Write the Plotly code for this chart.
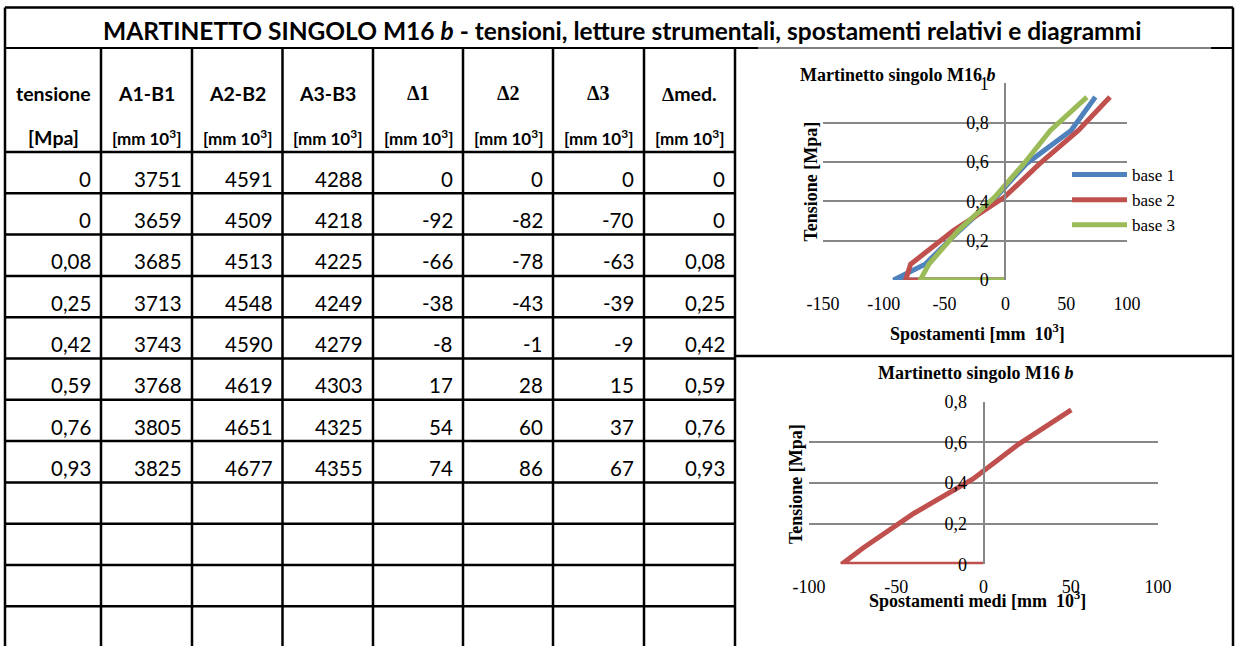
import plotly.graph_objects as go

# ---------------- data ----------------
tensione = [0, 0, 0.08, 0.25, 0.42, 0.59, 0.76, 0.93]
a1_b1 = [3751, 3659, 3685, 3713, 3743, 3768, 3805, 3825]
a2_b2 = [4591, 4509, 4513, 4548, 4590, 4619, 4651, 4677]
a3_b3 = [4288, 4218, 4225, 4249, 4279, 4303, 4325, 4355]
delta1 = [0, -92, -66, -38, -8, 17, 54, 74]
delta2 = [0, -82, -78, -43, -1, 28, 60, 86]
delta3 = [0, -70, -63, -39, -9, 15, 37, 67]
delta_med_col = [0, 0, 0.08, 0.25, 0.42, 0.59, 0.76, 0.93]

# chart 2 (spostamenti medi)
medi_x = [0, -81.3, -69, -40, -6, 20, 50.3]
medi_y = [0, 0, 0.08, 0.25, 0.42, 0.59, 0.76]

header_top = ["tensione", "A1-B1", "A2-B2", "A3-B3", "Δ1", "Δ2", "Δ3", "Δmed."]
header_unit = ["[Mpa]", "[mm 10<sup>3</sup>]", "[mm 10<sup>3</sup>]", "[mm 10<sup>3</sup>]",
               "[mm 10<sup>3</sup>]", "[mm 10<sup>3</sup>]", "[mm 10<sup>3</sup>]", "[mm 10<sup>3</sup>]"]
title_text = "MARTINETTO SINGOLO M16 <i>b</i> - tensioni, letture strumentali, spostamenti relativi e diagrammi"

x1_ticks = [-150, -100, -50, 0, 50, 100]
x1_ticklabels = ["-150", "-100", "-50", "0", "50", "100"]
y1_ticks = [0, 0.2, 0.4, 0.6, 0.8, 1]
y1_ticklabels = ["0", "0,2", "0,4", "0,6", "0,8", "1"]
x2_ticks = [-100, -50, 0, 50, 100]
x2_ticklabels = ["-100", "-50", "0", "50", "100"]
y2_ticks = [0, 0.2, 0.4, 0.6, 0.8]
y2_ticklabels = ["0", "0,2", "0,4", "0,6", "0,8"]

# ---------------- geometry helpers ----------------
W, H = 1236, 646
def fx(px):
    return px / W
def fy(py):
    return 1 - py / H

SERIF = "Liberation Serif, Times New Roman, serif"
SANS = "Lato, Carlito, Calibri, sans-serif"
GRID = "#878787"
BLUE, RED, GREEN = "#4F81BD", "#C0504D", "#9BBB59"

col_edges = [5, 101, 192, 282.5, 373, 463, 553, 644, 735]
LEFT, RIGHT, TOP = 5, 1233, 7.5
TITLE_BOTTOM = 48
HEADER_BOTTOM = 152
ROW_H = 41.3
N_ROWS = 12

def fmt(v):
    s = f"{v:g}"
    return s.replace(".", ",")

fig = go.Figure()

# ---------------- charts ----------------
fig.add_trace(go.Scatter(x=delta1, y=tensione, mode="lines", name="base 1",
                         line=dict(color=BLUE, width=5), xaxis="x", yaxis="y"))
fig.add_trace(go.Scatter(x=delta2, y=tensione, mode="lines", name="base 2",
                         line=dict(color=RED, width=5), xaxis="x", yaxis="y"))
fig.add_trace(go.Scatter(x=delta3, y=tensione, mode="lines", name="base 3",
                         line=dict(color=GREEN, width=5), xaxis="x", yaxis="y"))
fig.add_trace(go.Scatter(x=medi_x, y=medi_y, mode="lines", name="medio",
                         line=dict(color=RED, width=5), xaxis="x2", yaxis="y2",
                         showlegend=False))

tickfont = dict(family=SERIF, size=18, color="black")

# ---------------- table lines ----------------
shapes = []
def hline(y, x0, x1, w=2):
    shapes.append(dict(type="line", xref="paper", yref="paper", x0=fx(x0), x1=fx(x1),
                       y0=fy(y), y1=fy(y), line=dict(color="black", width=w)))
def vline(x, y0, y1, w=2):
    shapes.append(dict(type="line", xref="paper", yref="paper", x0=fx(x), x1=fx(x),
                       y0=fy(y0), y1=fy(y1), line=dict(color="black", width=w)))

hline(TOP, LEFT, RIGHT, 2.5)
vline(LEFT, TOP, H + 5, 2.5)
vline(RIGHT, TOP, H + 5, 2.5)
hline(TITLE_BOTTOM, LEFT, 758, 2)
hline(TITLE_BOTTOM, 758, 1211, 1)
hline(TITLE_BOTTOM, 1211, RIGHT, 2)
hline(HEADER_BOTTOM, LEFT, col_edges[-1], 2.5)
for k in range(1, N_ROWS + 1):
    hline(HEADER_BOTTOM + ROW_H * k, LEFT, col_edges[-1], 2.5)
for x in col_edges[1:]:
    vline(x, TITLE_BOTTOM, H + 5, 2.5)
hline(356, col_edges[-1], RIGHT, 2.5)

# ---------------- table text ----------------
ann = []
ann.append(dict(text="<b>" + title_text + "</b>", x=fx((LEFT + RIGHT) / 2 + 3), y=fy(30.5),
                xref="paper", yref="paper", showarrow=False, xanchor="center", yanchor="middle",
                font=dict(family=SANS, size=24.5, color="black")))

for i, (t, u) in enumerate(zip(header_top, header_unit)):
    cx = (col_edges[i] + col_edges[i + 1]) / 2
    if t.startswith("Δ") and t != "Δmed.":
        txt = "<b>" + t + "</b>"
        fam = SERIF
        size = 20
    elif t == "Δmed.":
        txt = "<b><span style='font-family:" + SERIF + "'>Δ</span>med.</b>"
        fam = SANS
        size = 19.5
    else:
        txt = "<b>" + t + "</b>"
        fam = SANS
        size = 19.5
    ann.append(dict(text=txt, x=fx(cx), y=fy(93), xref="paper", yref="paper", showarrow=False,
                    xanchor="center", yanchor="middle", font=dict(family=fam, size=size, color="black")))
    usize = 19.5 if i == 0 else 17
    ann.append(dict(text="<b>" + u + "</b>", x=fx(cx), y=fy(137), xref="paper", yref="paper",
                    showarrow=False, xanchor="center", yanchor="middle",
                    font=dict(family=SANS, size=usize, color="black")))

columns = [tensione, a1_b1, a2_b2, a3_b3, delta1, delta2, delta3, delta_med_col]
for c, col in enumerate(columns):
    for r, v in enumerate(col):
        ybot = HEADER_BOTTOM + ROW_H * (r + 1)
        ann.append(dict(text=fmt(v), x=fx(col_edges[c + 1] - 8), y=fy(ybot - 14.5),
                        xref="paper", yref="paper", showarrow=False, xanchor="right",
                        yanchor="middle", font=dict(family=SANS, size=20.5, color="black")))

# ---------------- chart titles ----------------
tfont = dict(family=SERIF, size=18, color="black")
ann.append(dict(text="<b>Martinetto singolo M16 <i>b</i></b>", x=fx(798), y=fy(75), xref="paper",
                yref="paper", showarrow=False, xanchor="left", yanchor="middle", font=tfont))
ann.append(dict(text="<b>Tensione [Mpa]</b>", x=fx(810), y=fy(181.5), xref="paper", yref="paper",
                showarrow=False, textangle=-90, xanchor="center", yanchor="middle", font=tfont))
ann.append(dict(text="<b>Spostamenti [mm&nbsp; 10<sup>3</sup>]</b>", x=fx(977), y=fy(332),
                xref="paper", yref="paper", showarrow=False, xanchor="center", yanchor="middle",
                font=tfont))
ann.append(dict(text="<b>Martinetto singolo M16 <i>b</i></b>", x=fx(976), y=fy(373), xref="paper",
                yref="paper", showarrow=False, xanchor="center", yanchor="middle", font=tfont))
ann.append(dict(text="<b>Tensione [Mpa]</b>", x=fx(796), y=fy(484), xref="paper", yref="paper",
                showarrow=False, textangle=-90, xanchor="center", yanchor="middle", font=tfont))
ann.append(dict(text="<b>Spostamenti medi [mm&nbsp; 10<sup>3</sup>]</b>", x=fx(977), y=fy(599),
                xref="paper", yref="paper", showarrow=False, xanchor="center", yanchor="middle",
                font=tfont))

# ---------------- layout ----------------
fig.update_layout(
    template="none",
    width=W, height=H, autosize=False,
    margin=dict(l=0, r=0, t=0, b=0, pad=0, autoexpand=False),
    paper_bgcolor="white", plot_bgcolor="rgba(0,0,0,0)",
    shapes=shapes, annotations=ann,
    showlegend=True,
    legend=dict(x=fx(1067), y=fy(157), xanchor="left", yanchor="top",
                font=dict(family=SERIF, size=17, color="black"),
                bgcolor="rgba(0,0,0,0)", itemwidth=55, tracegroupgap=0),
    xaxis=dict(domain=[fx(823), fx(1127)], range=[-150, 100], anchor="y", automargin=False,
               tickmode="array", tickvals=x1_ticks, ticktext=x1_ticklabels,
               showgrid=False, zeroline=False, showline=False, ticks="",
               ticklabelstandoff=11, tickfont=tickfont, fixedrange=True),
    yaxis=dict(domain=[fy(280), fy(83.3)], range=[0, 1], anchor="free", position=fx(1005.4),
               automargin=False,
               tickmode="array", tickvals=y1_ticks, ticktext=y1_ticklabels,
               showgrid=True, gridcolor=GRID, gridwidth=2, zeroline=False,
               showline=True, linecolor=GRID, linewidth=2, ticks="",
               ticklabelstandoff=12, tickfont=tickfont, fixedrange=True),
    xaxis2=dict(domain=[fx(809), fx(1158)], range=[-100, 100], anchor="y2", automargin=False,
                tickmode="array", tickvals=x2_ticks, ticktext=x2_ticklabels,
                showgrid=False, zeroline=False, showline=False, ticks="",
                ticklabelstandoff=10, tickfont=tickfont, fixedrange=True),
    yaxis2=dict(domain=[fy(564.3), fy(401.7)], range=[0, 0.8], anchor="free", position=fx(983.5),
                automargin=False,
                tickmode="array", tickvals=y2_ticks, ticktext=y2_ticklabels,
                showgrid=True, gridcolor=GRID, gridwidth=2, zeroline=False,
                showline=True, linecolor=GRID, linewidth=2, ticks="",
                ticklabelstandoff=12, tickfont=tickfont, fixedrange=True),
)

fig.write_html("out.html", config={"displayModeBar": False},
               post_script="document.body.style.margin='0px';")
